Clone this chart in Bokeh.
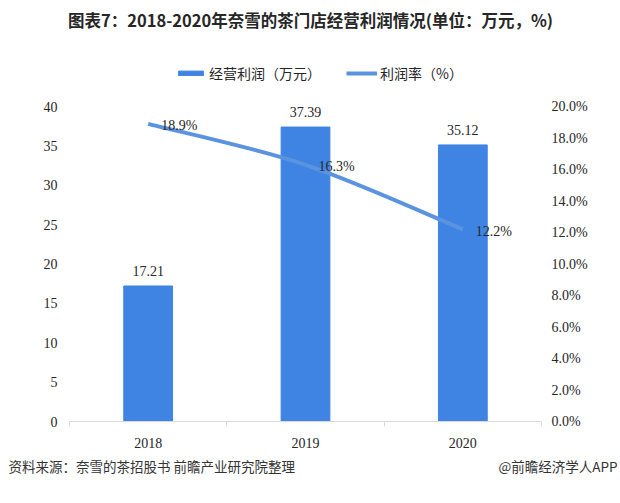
from bokeh.plotting import figure
from bokeh.models import (Range1d, LinearAxis, FixedTicker, PrintfTickFormatter,
                          Legend, LegendItem, Label)
from bokeh.core.properties import value
from bokeh.embed import file_html
from bokeh.resources import INLINE

# ---- data ----
years = ["2018", "2019", "2020"]
profit = [17.21, 37.39, 35.12]          # 经营利润（万元）
margin = [18.9, 16.3, 12.2]             # 利润率（%）
profit_labels = ["17.21", "37.39", "35.12"]
margin_labels = ["18.9%", "16.3%", "12.2%"]
left_ticks = [0, 5, 10, 15, 20, 25, 30, 35, 40]
right_ticks = [0, 2, 4, 6, 8, 10, 12, 14, 16, 18, 20]

title_text = "图表7：2018-2020年奈雪的茶门店经营利润情况(单位：万元，%)"
source_text = "资料来源：奈雪的茶招股书 前瞻产业研究院整理"
brand_text = "@前瞻经济学人APP"

CJK = "Noto Sans CJK SC"
SERIF = "Liberation Serif"
BAR_COLOR = "#3F84E2"
LINE_COLOR = "#5A93E0"
TXT = "#262626"

# ---- layout (pixels) ----
W, H = 620, 503
PX_L, PX_R, PX_T, PX_B = 69, 541, 106, 421      # plot area edges on the canvas
LEFT_MAX, RIGHT_MAX = 40, 20

n = len(years)
xs = [i + 0.5 for i in range(n)]
kx = (PX_R - PX_L) / n
ky = (PX_B - PX_T) / LEFT_MAX
kr = (PX_B - PX_T) / RIGHT_MAX

p = figure(width=W, height=H, output_backend="svg", toolbar_location=None,
           x_axis_location=None, y_axis_location=None,
           x_range=Range1d(-PX_L / kx, n + (W - PX_R) / kx),
           y_range=Range1d(-(H - PX_B) / ky, LEFT_MAX + PX_T / ky),
           min_border=0, outline_line_color=None, background_fill_color="white")
p.extra_y_ranges = {"pct": Range1d(-(H - PX_B) / kr, RIGHT_MAX + PX_T / kr)}
p.xgrid.visible = False
p.ygrid.visible = False

# axes (fixed at the plot-area edges)
ax_b = LinearAxis(fixed_location=0, bounds=(0, n),
                  ticker=FixedTicker(ticks=xs, minor_ticks=list(range(n + 1))),
                  major_label_overrides={x: y for x, y in zip(xs, years)})
ax_b.axis_line_color = "#d9d9d9"
ax_b.major_tick_line_color = None
ax_b.major_tick_out = 0
ax_b.major_tick_in = 0
ax_b.minor_tick_line_color = "#d9d9d9"
ax_b.minor_tick_in = 0
ax_b.minor_tick_out = 5
ax_b.major_label_standoff = 11
p.add_layout(ax_b, "below")

ax_l = LinearAxis(fixed_location=0, ticker=FixedTicker(ticks=left_ticks))
ax_l.major_label_standoff = 12
p.add_layout(ax_l, "left")

ax_r = LinearAxis(fixed_location=n, y_range_name="pct", ticker=FixedTicker(ticks=right_ticks),
                  formatter=PrintfTickFormatter(format="%.1f%%"))
ax_r.major_label_standoff = 10
p.add_layout(ax_r, "right")

for ax in (ax_l, ax_r):
    ax.axis_line_color = None
    ax.major_tick_line_color = None
    ax.minor_tick_line_color = None
    ax.major_tick_out = 0
    ax.major_tick_in = 0
for ax in (ax_b, ax_l, ax_r):
    ax.major_label_text_font = SERIF
    ax.major_label_text_font_size = "14px"
    ax.major_label_text_color = TXT

# bars
bars = p.vbar(x=xs, top=profit, width=0.31, color=BAR_COLOR)
p.text(x=xs, y=profit, text=profit_labels, text_align="center", text_baseline="middle",
       y_offset=-15, text_font=value(SERIF), text_font_size="14px", text_color=TXT)

# smoothed line (Bezier control points derived from the data, Catmull-Rom style)
x0, y0, x1, y1, cx0, cy0, cx1, cy1 = [], [], [], [], [], [], [], []
for i in range(n - 1):
    pxm, pym = (xs[i - 1], margin[i - 1]) if i > 0 else (xs[i], margin[i])
    pxp, pyp = (xs[i + 2], margin[i + 2]) if i + 2 < n else (xs[i + 1], margin[i + 1])
    x0.append(xs[i]); y0.append(margin[i])
    x1.append(xs[i + 1]); y1.append(margin[i + 1])
    cx0.append(xs[i] + (xs[i + 1] - pxm) / 6); cy0.append(margin[i] + (margin[i + 1] - pym) / 6)
    cx1.append(xs[i + 1] - (pxp - xs[i]) / 6); cy1.append(margin[i + 1] - (pyp - margin[i]) / 6)
curve = p.bezier(x0=x0, y0=y0, x1=x1, y1=y1, cx0=cx0, cy0=cy0, cx1=cx1, cy1=cy1,
                 line_color=LINE_COLOR, line_width=4, y_range_name="pct")
p.text(x=xs, y=margin, text=margin_labels, text_align="left", text_baseline="middle",
       x_offset=13, y_offset=2, y_range_name="pct",
       text_font=value(SERIF), text_font_size="14px", text_color=TXT)

# legend (location = bottom-left corner, screen pixels from the bottom)
legend = Legend(items=[LegendItem(label="经营利润（万元）", renderers=[bars]),
                       LegendItem(label="利润率（%）", renderers=[curve])],
                orientation="horizontal", location=(175, H - 83),
                glyph_width=31, glyph_height=6, label_standoff=3, spacing=25,
                padding=0, margin=0, border_line_color=None, background_fill_alpha=0,
                label_text_font=CJK, label_text_font_size="14px",
                label_text_color=TXT, label_height=16)
p.add_layout(legend, "center")

# title and footer
p.add_layout(Label(x=310, y=H - 19, x_units="screen", y_units="screen",
                   text=title_text, text_align="center", text_baseline="middle",
                   text_font=CJK, text_font_style="bold", text_font_size="16.5px",
                   text_color=TXT))
p.add_layout(Label(x=8, y=H - 465, x_units="screen", y_units="screen",
                   text=source_text, text_align="left", text_baseline="middle",
                   text_font=CJK, text_font_size="13.5px", text_color="#333333"))
p.add_layout(Label(x=617, y=H - 465, x_units="screen", y_units="screen",
                   text=brand_text, text_align="right", text_baseline="middle",
                   text_font=CJK, text_font_size="13.5px", text_color="#333333"))

open("out.html", "w").write(file_html(p, INLINE))
